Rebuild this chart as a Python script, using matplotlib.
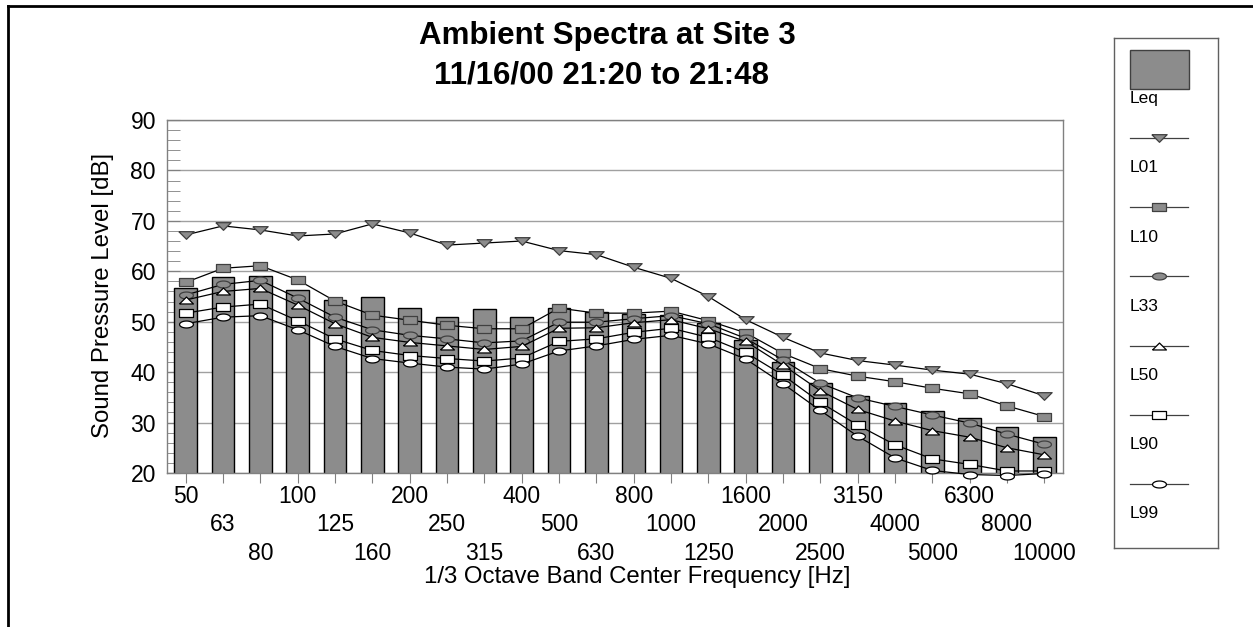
import numpy as np
import matplotlib
matplotlib.use('Agg')
import matplotlib.pyplot as plt
from matplotlib.lines import Line2D
from matplotlib.patches import Rectangle

plt.rcParams['font.family'] = ['Liberation Sans', 'DejaVu Sans']

freqs = ['50', '63', '80', '100', '125', '160', '200', '250', '315', '400', '500', '630',
         '800', '1000', '1250', '1600', '2000', '2500', '3150', '4000', '5000', '6300', '8000', '10000']

leq = [56.6, 58.8, 59.0, 56.3, 54.3, 55.0, 52.7, 51.0, 52.5, 50.9, 52.7, 51.9,
       51.5, 51.3, 49.7, 46.4, 42.0, 37.8, 35.3, 33.8, 32.2, 31.0, 29.1, 27.1]
l01 = [67.2, 69.0, 68.2, 67.0, 67.4, 69.4, 67.6, 65.2, 65.6, 66.0, 64.1, 63.3,
       60.8, 58.6, 55.0, 50.4, 46.9, 43.8, 42.3, 41.4, 40.4, 39.6, 37.7, 35.3]
l10 = [57.8, 60.6, 61.1, 58.3, 54.1, 51.3, 50.3, 49.3, 48.6, 48.6, 52.7, 51.7,
       51.7, 52.1, 50.2, 47.8, 43.7, 40.7, 39.2, 38.1, 36.8, 35.7, 33.3, 31.2]
l33 = [55.3, 57.4, 58.2, 54.7, 50.9, 48.4, 47.3, 46.6, 45.8, 46.2, 49.9, 49.9,
       50.6, 51.2, 49.6, 46.7, 42.4, 37.8, 34.9, 33.2, 31.5, 29.9, 27.7, 25.7]
l50 = [54.3, 56.0, 56.6, 53.3, 49.6, 46.9, 45.9, 45.2, 44.5, 45.1, 48.7, 48.8,
       49.8, 50.4, 48.6, 46.1, 41.4, 36.3, 32.6, 30.3, 28.4, 27.1, 25.0, 23.6]
l90 = [51.7, 52.9, 53.5, 50.2, 46.6, 44.3, 43.3, 42.7, 42.2, 42.8, 46.1, 46.6,
       47.9, 48.7, 46.9, 43.9, 39.4, 34.0, 29.5, 25.6, 22.8, 21.7, 20.4, 20.4]
l99 = [49.6, 50.9, 51.2, 48.4, 45.1, 42.7, 41.8, 41.0, 40.6, 41.6, 44.2, 45.2,
       46.5, 47.3, 45.6, 42.6, 37.7, 32.4, 27.3, 23.0, 20.5, 19.7, 19.5, 19.9]

GRAY = '#8c8c8c'
DARK = '#404040'

# flattened marker shapes
tri_dn = [(-1, 0.5), (1, 0.5), (0, -0.5), (-1, 0.5)]
tri_up = [(-1, -0.5), (1, -0.5), (0, 0.5), (-1, -0.5)]
rect = [(-1, -0.55), (1, -0.55), (1, 0.55), (-1, 0.55), (-1, -0.55)]
t = np.linspace(0, 2 * np.pi, 40)
ell = list(zip(np.cos(t), 0.5 * np.sin(t)))

series = [
    ('L01', l01, tri_dn, GRAY, DARK, 11),
    ('L10', l10, rect, GRAY, DARK, 10),
    ('L33', l33, ell, GRAY, DARK, 10),
    ('L50', l50, tri_up, 'white', 'black', 10),
    ('L90', l90, rect, 'white', 'black', 10),
    ('L99', l99, ell, 'white', 'black', 10),
]

fig = plt.figure(figsize=(12.53, 6.27), dpi=100)
W, H = 1253.0, 627.0
ax = fig.add_axes([167 / W, 1 - 473 / H, 896 / W, 353 / H])

x = np.arange(len(freqs))
ax.bar(x, leq, width=0.6, bottom=0, color=GRAY, edgecolor='black', linewidth=1.0, zorder=2)
for name, vals, mk, fc, ec, ms in series:
    ax.plot(x, vals, color='black', lw=0.9, marker=mk, ms=ms, mfc=fc, mec=ec, mew=0.9,
            zorder=3, clip_on=False)

ax.set_xlim(-0.5, len(freqs) - 0.5)
ax.set_ylim(20, 90)
ax.set_yticks(np.arange(20, 91, 10))
ax.set_yticks(np.arange(20, 91, 2), minor=True)
ax.yaxis.grid(True, color='#a0a0a0', lw=1.0, zorder=0)
ax.set_axisbelow(True)

ax.set_xticks(x)
ax.set_xticklabels(freqs, fontsize=16.5)
ax.tick_params(axis='x', direction='out', length=7, color='#808080')
# three staggered rows of labels
for i, tk in enumerate(ax.xaxis.get_major_ticks()):
    tk.set_pad(1.5 + 20.5 * (i % 3))
ax.tick_params(axis='y', which='both', direction='in', length=9, color='#808080', labelsize=16.5, pad=8)
for s in ax.spines.values():
    s.set_color('#808080')
    s.set_linewidth(1.0)

fig.text(103 / W, 1 - 295 / H, 'Sound Pressure Level [dB]', fontsize=17.3, rotation=90,
         ha='center', va='center')
fig.text(637 / W, 1 - 577 / H, '1/3 Octave Band Center Frequency [Hz]', fontsize=17.3,
         ha='center', va='center')

fig.text(607 / W, 1 - 36 / H, 'Ambient Spectra at Site 3', fontsize=22.5, fontweight='bold',
         ha='center', va='center')
fig.text(602 / W, 1 - 75 / H, '11/16/00 21:20 to 21:48', fontsize=22.5, fontweight='bold',
         ha='center', va='center')

# page frame (left and top edges)
fig.add_artist(Line2D([8 / W, 8 / W], [0, 1 - 6 / H], color='black', lw=2.0, transform=fig.transFigure))
fig.add_artist(Line2D([8 / W, 1], [1 - 6 / H, 1 - 6 / H], color='black', lw=2.0, transform=fig.transFigure))

# legend box drawn by hand, pixel units inside
lx0, ly0, lw_, lh_ = 1114, 38, 104, 510
lax = fig.add_axes([lx0 / W, 1 - (ly0 + lh_) / H, lw_ / W, lh_ / H])
lax.set_xlim(0, lw_)
lax.set_ylim(lh_, 0)
lax.set_xticks([])
lax.set_yticks([])
for s in lax.spines.values():
    s.set_color('#606060')
    s.set_linewidth(1.0)
lax.add_patch(Rectangle((16, 12), 59, 39, facecolor=GRAY, edgecolor=DARK, lw=1.0))
lax.text(16, 60, 'Leq', fontsize=12.5, ha='left', va='center')
for k, (name, vals, mk, fc, ec, ms) in enumerate(series):
    yy = 100 + 69.2 * k
    lax.plot([16, 74], [yy, yy], color='#404040', lw=0.9)
    lax.plot([45], [yy], marker=mk, ms=ms, mfc=fc, mec=ec, mew=0.9, color='black')
    lax.text(16, yy + 30, name, fontsize=12.5, ha='left', va='center')

fig.savefig('out.png', dpi=100)
